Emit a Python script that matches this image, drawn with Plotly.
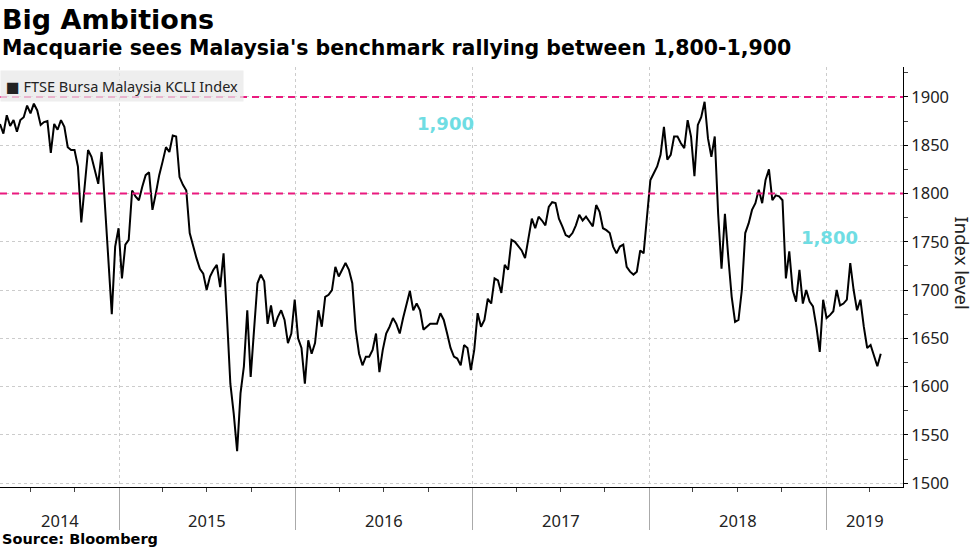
import pandas as pd
import plotly.graph_objects as go

# Weekly closes of FTSE Bursa Malaysia KCLI (starting 2014-04-30)
start_date = '2014-04-30'
kcli = [
    1872, 1862, 1881, 1870, 1876, 1864, 1876, 1879, 1891, 1883,
    1893, 1886, 1871, 1874, 1875, 1842, 1872, 1866, 1876, 1869,
    1848, 1845, 1845, 1828, 1770, 1807, 1845, 1838, 1824, 1810,
    1843, 1786, 1741, 1675, 1745, 1764, 1712, 1747, 1752, 1803,
    1797, 1793, 1807, 1819, 1822, 1783, 1800, 1819,
    1833, 1848, 1843, 1860, 1859, 1817, 1809, 1803, 1759, 1745,
    1733, 1722, 1717, 1700, 1714, 1721, 1726, 1703, 1738, 1672,
    1603, 1572, 1533, 1593, 1621, 1679, 1610, 1659, 1707, 1716,
    1709, 1665, 1684, 1662, 1672, 1679, 1669, 1645, 1655, 1690,
    1650, 1640, 1603, 1648,
    1634, 1645, 1679, 1662, 1693, 1695, 1700, 1724, 1714, 1721,
    1728, 1721, 1707, 1659, 1634, 1622, 1631, 1631, 1638, 1655,
    1615, 1638, 1655, 1662, 1671, 1665, 1655, 1671, 1686, 1699,
    1679, 1686, 1679, 1659, 1662, 1665, 1665, 1665, 1676, 1669,
    1655, 1640, 1631, 1629,
    1622, 1643, 1640, 1617, 1638, 1676, 1662, 1669, 1691, 1686,
    1712, 1710, 1697, 1726, 1721, 1752, 1750, 1745, 1741, 1733,
    1755, 1774, 1764, 1776, 1772, 1767, 1786, 1791, 1790, 1774,
    1766, 1757, 1755, 1759, 1767, 1778, 1772, 1776, 1771, 1766,
    1788, 1781, 1764, 1762,
    1759, 1745, 1738, 1745, 1747, 1724, 1719, 1716, 1719, 1741,
    1738, 1776, 1814, 1821, 1828, 1840, 1869, 1835, 1840, 1859,
    1859, 1852, 1847, 1876, 1859, 1818, 1871, 1879, 1895, 1857,
    1838, 1859, 1779, 1722, 1779, 1734, 1693, 1667, 1669, 1700,
    1759, 1769, 1783, 1790, 1804,
    1790, 1814, 1825, 1793, 1798, 1797, 1793, 1712, 1740, 1700,
    1688, 1721, 1686, 1700, 1688, 1683, 1662, 1636, 1690, 1671,
    1674, 1678, 1700, 1684, 1686, 1690, 1728, 1700, 1679, 1690,
    1662, 1640, 1643, 1631, 1621, 1634,
]
dates = pd.date_range(start_date, periods=len(kcli), freq='7D')

targets = [1800, 1900]
target_labels = ['1,800', '1,900']
target_label_dates = ['2019-01-09', '2016-11-06']
target_label_values = [1754, 1872]

years = ['2014', '2015', '2016', '2017', '2018', '2019']
year_starts = ['2014-01-01', '2015-01-01', '2016-01-01', '2017-01-01',
               '2018-01-01', '2019-01-01', '2020-01-01']
x_range = ['2014-04-30', '2019-06-09']
y_ticks = [1500, 1550, 1600, 1650, 1700, 1750, 1800, 1850, 1900]

FONT = 'Noto Sans, DejaVu Sans, sans-serif'
BOLD = 'DejaVu Sans, sans-serif'
PINK = '#ea1a7f'
CYAN = '#6fdde3'

PLOT_TOP, PLOT_BOTTOM = 67, 487


def py(pix):
    # page pixel row -> paper y
    return (PLOT_BOTTOM - pix) / (PLOT_BOTTOM - PLOT_TOP)


fig = go.Figure()
fig.add_trace(go.Scatter(x=dates, y=kcli, mode='lines',
                         line=dict(color='black', width=2),
                         name='FTSE Bursa Malaysia KCLI Index', showlegend=False))

for lvl in targets:
    fig.add_hline(y=lvl, line=dict(color=PINK, width=2, dash='7px,5px'))

for txt, d, v in zip(target_labels, target_label_dates, target_label_values):
    fig.add_annotation(x=d, y=v, text='<b>' + txt + '</b>', showarrow=False,
                       font=dict(family=BOLD, size=18, color=CYAN))

# year labels centred on the visible part of each year
lo, hi = pd.Timestamp(x_range[0]), pd.Timestamp(x_range[1])
for i, yr in enumerate(years):
    a = max(pd.Timestamp(year_starts[i]), lo)
    b = min(pd.Timestamp(year_starts[i + 1]), hi)
    mid = a + (b - a) / 2
    fig.add_annotation(x=mid, y=py(520), yref='paper', text=yr, showarrow=False,
                       yanchor='middle', font=dict(family=FONT, size=16.5, color='#222'))

# legend box
fig.add_annotation(x=0, y=1, xref='paper', yref='paper', xanchor='left', yanchor='top',
                   yshift=-3, text='■ FTSE Bursa Malaysia KCLI Index', showarrow=False,
                   bgcolor='rgba(232,232,232,0.75)', borderpad=5,
                   font=dict(family=FONT, size=14.5, color='#222'))

fig.add_annotation(x=0, y=py(20), xref='paper', yref='paper', xanchor='left', yanchor='middle',
                   text='<b>Big Ambitions</b>', showarrow=False,
                   font=dict(family=BOLD, size=27, color='black'))
fig.add_annotation(x=0, y=py(48), xref='paper', yref='paper', xanchor='left', yanchor='middle',
                   text="<b>Macquarie sees Malaysia's benchmark rallying between 1,800-1,900</b>",
                   showarrow=False, font=dict(family=BOLD, size=20.5, color='black'))
fig.add_annotation(x=0, y=py(539), xref='paper', yref='paper', xanchor='left', yanchor='middle',
                   text='<b>Source: Bloomberg</b>', showarrow=False,
                   font=dict(family=BOLD, size=14.5, color='black'))
fig.add_annotation(x=964 / 903, y=py(263), xref='paper', yref='paper', textangle=90,
                   xshift=13, text='Index level', showarrow=False,
                   font=dict(family=FONT, size=18.5, color='#222'))

fig.update_layout(
    width=977, height=549,
    margin=dict(l=0, r=74, t=PLOT_TOP, b=549 - PLOT_BOTTOM),
    paper_bgcolor='white', plot_bgcolor='white',
    showlegend=False,
    xaxis=dict(type='date', range=x_range, tickvals=year_starts, showticklabels=False,
               ticks='outside', ticklen=42, tickcolor='#aaaaaa',
               showline=True, linecolor='black', linewidth=1,
               showgrid=True, gridcolor='#cccccc', griddash='dot',
               minor=dict(dtick='M3', tick0='2014-01-01', ticks='outside', ticklen=4,
                          tickcolor='#444', showgrid=False),
               zeroline=False),
    yaxis=dict(side='right', range=[1496, 1931], tickvals=y_ticks,
               ticks='outside', ticklen=4, tickcolor='black',
               showline=True, linecolor='black', linewidth=1,
               showgrid=True, gridcolor='#cccccc', griddash='dot',
               minor=dict(dtick=25, ticks='outside', ticklen=4, tickcolor='#444', showgrid=False),
               tickfont=dict(family=FONT, size=16.5, color='#222'),
               zeroline=False),
)

fig.write_html('out.html', config={'displayModeBar': False},
               post_script="document.body.style.margin='0';")
